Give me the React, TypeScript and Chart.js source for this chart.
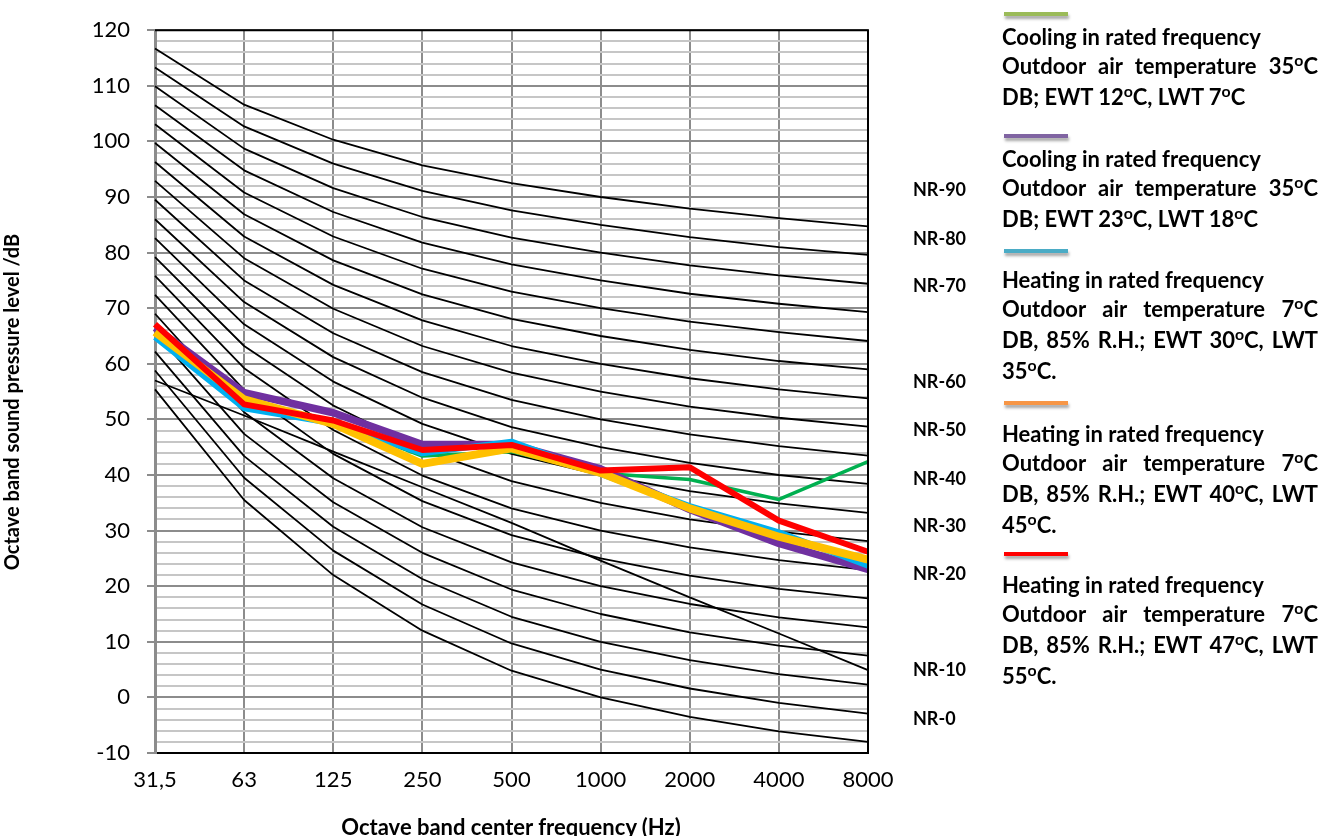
import React, { useEffect, useRef } from 'react';
import { Chart, registerables } from 'chart.js';

Chart.register(...registerables);

// ---- Data ----
const frequencies = ['31,5', '63', '125', '250', '500', '1000', '2000', '4000', '8000'];

// NR (noise rating) reference curves, dB per octave band
const nr0 = [55.4, 35.5, 22.0, 12.0, 4.8, 0, -3.5, -6.1, -8.0];
const nr5 = [58.8, 39.5, 26.4, 16.7, 9.7, 5, 1.6, -1.0, -2.9];
const nr10 = [62.2, 43.4, 30.7, 21.3, 14.5, 10, 6.7, 4.2, 2.3];
const nr15 = [65.6, 47.4, 35.1, 26.0, 19.4, 15, 11.7, 9.3, 7.5];
const nr20 = [69.0, 51.3, 39.4, 30.6, 24.3, 20, 16.8, 14.4, 12.6];
const nr25 = [72.4, 55.3, 43.8, 35.3, 29.2, 25, 21.9, 19.5, 17.8];
const nr30 = [75.8, 59.2, 48.1, 39.9, 34.0, 30, 27.0, 24.7, 22.9];
const nr35 = [79.2, 63.2, 52.5, 44.6, 38.9, 35, 32.0, 29.8, 28.1];
const nr40 = [82.6, 67.1, 56.8, 49.2, 43.8, 40, 37.1, 34.9, 33.2];
const nr45 = [86.0, 71.1, 61.2, 53.9, 48.6, 45, 42.2, 40.0, 38.4];
const nr50 = [89.5, 75.0, 65.5, 58.5, 53.5, 50, 47.3, 45.2, 43.5];
const nr55 = [92.9, 79.0, 69.9, 63.2, 58.4, 55, 52.3, 50.3, 48.7];
const nr60 = [96.3, 82.9, 74.2, 67.8, 63.2, 60, 57.4, 55.4, 53.8];
const nr65 = [99.7, 86.9, 78.6, 72.5, 68.1, 65, 62.5, 60.5, 59.0];
const nr70 = [103.1, 90.8, 82.9, 77.1, 73.0, 70, 67.6, 65.7, 64.1];
const nr75 = [106.5, 94.8, 87.3, 81.8, 77.9, 75, 72.6, 70.8, 69.3];
const nr80 = [109.9, 98.7, 91.6, 86.4, 82.7, 80, 77.7, 75.9, 74.4];
const nr85 = [113.3, 102.7, 96.0, 91.1, 87.6, 85, 82.8, 81.0, 79.6];
const nr90 = [116.7, 106.6, 100.3, 95.7, 92.5, 90, 87.9, 86.2, 84.7];
// extra straight-sloped black reference line visible in the original
const extraLine = [57.0, 50.7, 44.2, 37.8, 31.4, 24.6, 18.0, 11.5, 4.9];

const nrCurves = [nr0, nr5, nr10, nr15, nr20, nr25, nr30, nr35, nr40, nr45, nr50, nr55, nr60, nr65, nr70, nr75, nr80, nr85, nr90];

// Measured series
const coolingEwt12 = [65.5, 52.3, 49.5, 43.4, 44.2, 40.3, 39.2, 35.6, 42.4];
const coolingEwt23 = [66.5, 54.8, 51.2, 45.5, 45.5, 41.1, 33.8, 27.7, 23.0];
const heatingEwt30 = [64.8, 52.0, 49.3, 43.9, 46.0, 40.2, 34.4, 29.7, 23.7];
const heatingEwt40 = [65.7, 53.6, 49.2, 42.0, 44.8, 40.4, 34.0, 28.9, 24.8];
const heatingEwt47 = [67.1, 52.7, 49.8, 44.5, 45.4, 40.8, 41.4, 31.8, 26.2];

const yTickLabels = [-10, 0, 10, 20, 30, 40, 50, 60, 70, 80, 90, 100, 110, 120];

const nrLabels = ['NR-90', 'NR-80', 'NR-70', 'NR-60', 'NR-50', 'NR-40', 'NR-30', 'NR-20', 'NR-10', 'NR-0'];
const nrLabelCenters = [190, 239, 286, 382, 430, 479, 526, 574, 670, 719];

const legendColors = ['#9BBB59', '#8064A2', '#4BACC6', '#F79646', '#FF0000'];
const legendTitles = [
  'Cooling in rated frequency',
  'Cooling in rated frequency',
  'Heating in rated frequency',
  'Heating in rated frequency',
  'Heating in rated frequency',
];
const legendLines = [
  ['Outdoor air temperature 35°C', 'DB; EWT 12°C, LWT 7°C'],
  ['Outdoor air temperature 35°C', 'DB; EWT 23°C, LWT 18°C'],
  ['Outdoor air temperature 7°C', 'DB, 85% R.H.; EWT 30°C, LWT', '35°C.'],
  ['Outdoor air temperature 7°C', 'DB, 85% R.H.; EWT 40°C, LWT', '45°C.'],
  ['Outdoor air temperature 7°C', 'DB, 85% R.H.; EWT 47°C, LWT', '55°C.'],
];
const legendBarTops = [12, 134, 249, 401, 552];
const legendFirstBaselines = [45, 167, 288, 442, 593];

const FONT = 'Lato, "Open Sans", sans-serif';

function Deg({ text }: { text: string }) {
  const parts = text.split('°');
  const out: React.ReactNode[] = [];
  parts.forEach((p, i) => {
    out.push(<React.Fragment key={'t' + i}>{p}</React.Fragment>);
    if (i < parts.length - 1) {
      out.push(
        <span key={'s' + i} style={{ fontSize: '0.72em', position: 'relative', top: '-0.5em' }}>o</span>
      );
    }
  });
  return <>{out}</>;
}

export default function App() {
  const canvasRef = useRef<HTMLCanvasElement | null>(null);

  useEffect(() => {
    if (!canvasRef.current) return;
    const frame = {
      id: 'frameBorder',
      afterDatasetsDraw(chart: any) {
        const { ctx, chartArea } = chart;
        ctx.save();
        ctx.strokeStyle = '#000';
        ctx.lineWidth = 2;
        ctx.beginPath();
        ctx.moveTo(chartArea.left, chartArea.top);
        ctx.lineTo(chartArea.right, chartArea.top);
        ctx.lineTo(chartArea.right, chartArea.bottom);
        ctx.stroke();
        ctx.restore();
      },
    };

    const colored = [
      { label: 'Heating EWT 47', data: heatingEwt47, borderColor: '#FF0000', borderWidth: 6 },
      { label: 'Heating EWT 40', data: heatingEwt40, borderColor: '#FFC000', borderWidth: 8 },
      { label: 'Heating EWT 30', data: heatingEwt30, borderColor: '#00B0F0', borderWidth: 6 },
      { label: 'Cooling EWT 23', data: coolingEwt23, borderColor: '#7030A0', borderWidth: 7.5 },
      { label: 'Cooling EWT 12', data: coolingEwt12, borderColor: '#00B050', borderWidth: 3.5 },
    ];
    const black = [extraLine, ...nrCurves].map((d, i) => ({
      label: 'NR ' + i,
      data: d,
      borderColor: '#000',
      borderWidth: 1.8,
    }));

    const chart = new Chart(canvasRef.current, {
      type: 'line',
      data: {
        labels: frequencies,
        datasets: [...colored, ...black].map((d) => ({
          ...d,
          pointRadius: 0,
          tension: 0,
          fill: false,
          borderJoinStyle: 'round' as const,
        })),
      },
      options: {
        animation: false,
        responsive: false,
        maintainAspectRatio: false,
        devicePixelRatio: 1,
        layout: { padding: { left: 0, top: 18, right: 467, bottom: 0 } },
        plugins: { legend: { display: false }, tooltip: { enabled: false } },
        scales: {
          x: {
            type: 'category',
            offset: false,
            afterFit: (s: any) => {
              s.height = 83;
            },
            grid: { color: '#8c8c8c', lineWidth: 2, drawTicks: false },
            border: { color: '#000', width: 2 },
            ticks: {
              autoSkip: false,
              maxRotation: 0,
              padding: 14,
              color: '#000',
              font: { family: FONT, size: 22 },
            },
          },
          y: {
            min: -10,
            max: 120,
            afterFit: (s: any) => {
              s.width = 155;
            },
            border: { color: '#8c8c8c', width: 3 },
            grid: {
              color: (c: any) => (c.tick && c.tick.value % 10 === 0 ? '#8c8c8c' : '#c6c6c6'),
              tickColor: (c: any) => (c.tick && c.tick.value % 10 === 0 ? '#8c8c8c' : 'rgba(0,0,0,0)'),
              lineWidth: 2,
              tickLength: 8,
            },
            ticks: {
              stepSize: 2,
              maxTicksLimit: 200,
              autoSkip: false,
              padding: 17,
              color: '#000',
              font: { family: FONT, size: 22 },
              callback: (v: any) => (yTickLabels.includes(Number(v)) ? String(v) : ''),
            },
          },
        },
      },
      plugins: [frame],
    } as any);
    return () => chart.destroy();
  }, []);

  const lineH = 29;
  return (
    <div
      style={{
        position: 'fixed',
        left: 0,
        top: 0,
        width: 1335,
        height: 836,
        background: '#fff',
        fontFamily: FONT,
        color: '#000',
        overflow: 'hidden',
      }}
    >
      <canvas
        ref={canvasRef}
        width={1335}
        height={836}
        style={{ position: 'absolute', left: 0, top: 0, width: 1335, height: 836 }}
      />
      {/* Y axis title */}
      <div
        style={{
          position: 'absolute',
          left: 11 - 250,
          top: 402 - 12,
          width: 500,
          height: 24,
          lineHeight: '24px',
          textAlign: 'center',
          fontWeight: 700,
          fontSize: 20,
          transform: 'rotate(-90deg)',
          whiteSpace: 'nowrap',
        }}
      >
        Octave band sound pressure level /dB
      </div>
      {/* X axis title */}
      <div
        style={{
          position: 'absolute',
          left: 511 - 300,
          top: 827 - 14,
          width: 600,
          height: 28,
          lineHeight: '28px',
          textAlign: 'center',
          fontWeight: 700,
          fontSize: 22,
          whiteSpace: 'nowrap',
        }}
      >
        Octave band center frequency (Hz)
      </div>
      {/* NR labels */}
      {nrLabels.map((t, i) => (
        <div
          key={t}
          style={{
            position: 'absolute',
            left: 913,
            top: nrLabelCenters[i] - 11,
            fontWeight: 700,
            fontSize: 18,
            lineHeight: '21.6px',
            whiteSpace: 'nowrap',
          }}
        >
          {t}
        </div>
      ))}
      {/* Legend */}
      {legendColors.map((c, i) => (
        <React.Fragment key={'lg' + i}>
          <div
            style={{
              position: 'absolute',
              left: 1004,
              top: legendBarTops[i],
              width: 64,
              height: 4,
              background: c,
              boxShadow: '1px 3px 3px rgba(0,0,0,0.35)',
            }}
          />
          <div
            style={{
              position: 'absolute',
              left: 1002,
              top: legendFirstBaselines[i] - 23,
              width: 316,
              fontWeight: 700,
              fontSize: 22,
              lineHeight: lineH + 'px',
            }}
          >
            <div style={{ whiteSpace: 'nowrap' }}>{legendTitles[i]}</div>
            {legendLines[i].map((l, j) => {
              const last = j === legendLines[i].length - 1;
              return (
                <div
                  key={j}
                  style={{
                    textAlign: last ? 'left' : 'justify',
                    textAlignLast: last ? 'left' : 'justify',
                    whiteSpace: last ? 'nowrap' : 'normal',
                  } as any}
                >
                  <Deg text={l} />
                </div>
              );
            })}
          </div>
        </React.Fragment>
      ))}
    </div>
  );
}
